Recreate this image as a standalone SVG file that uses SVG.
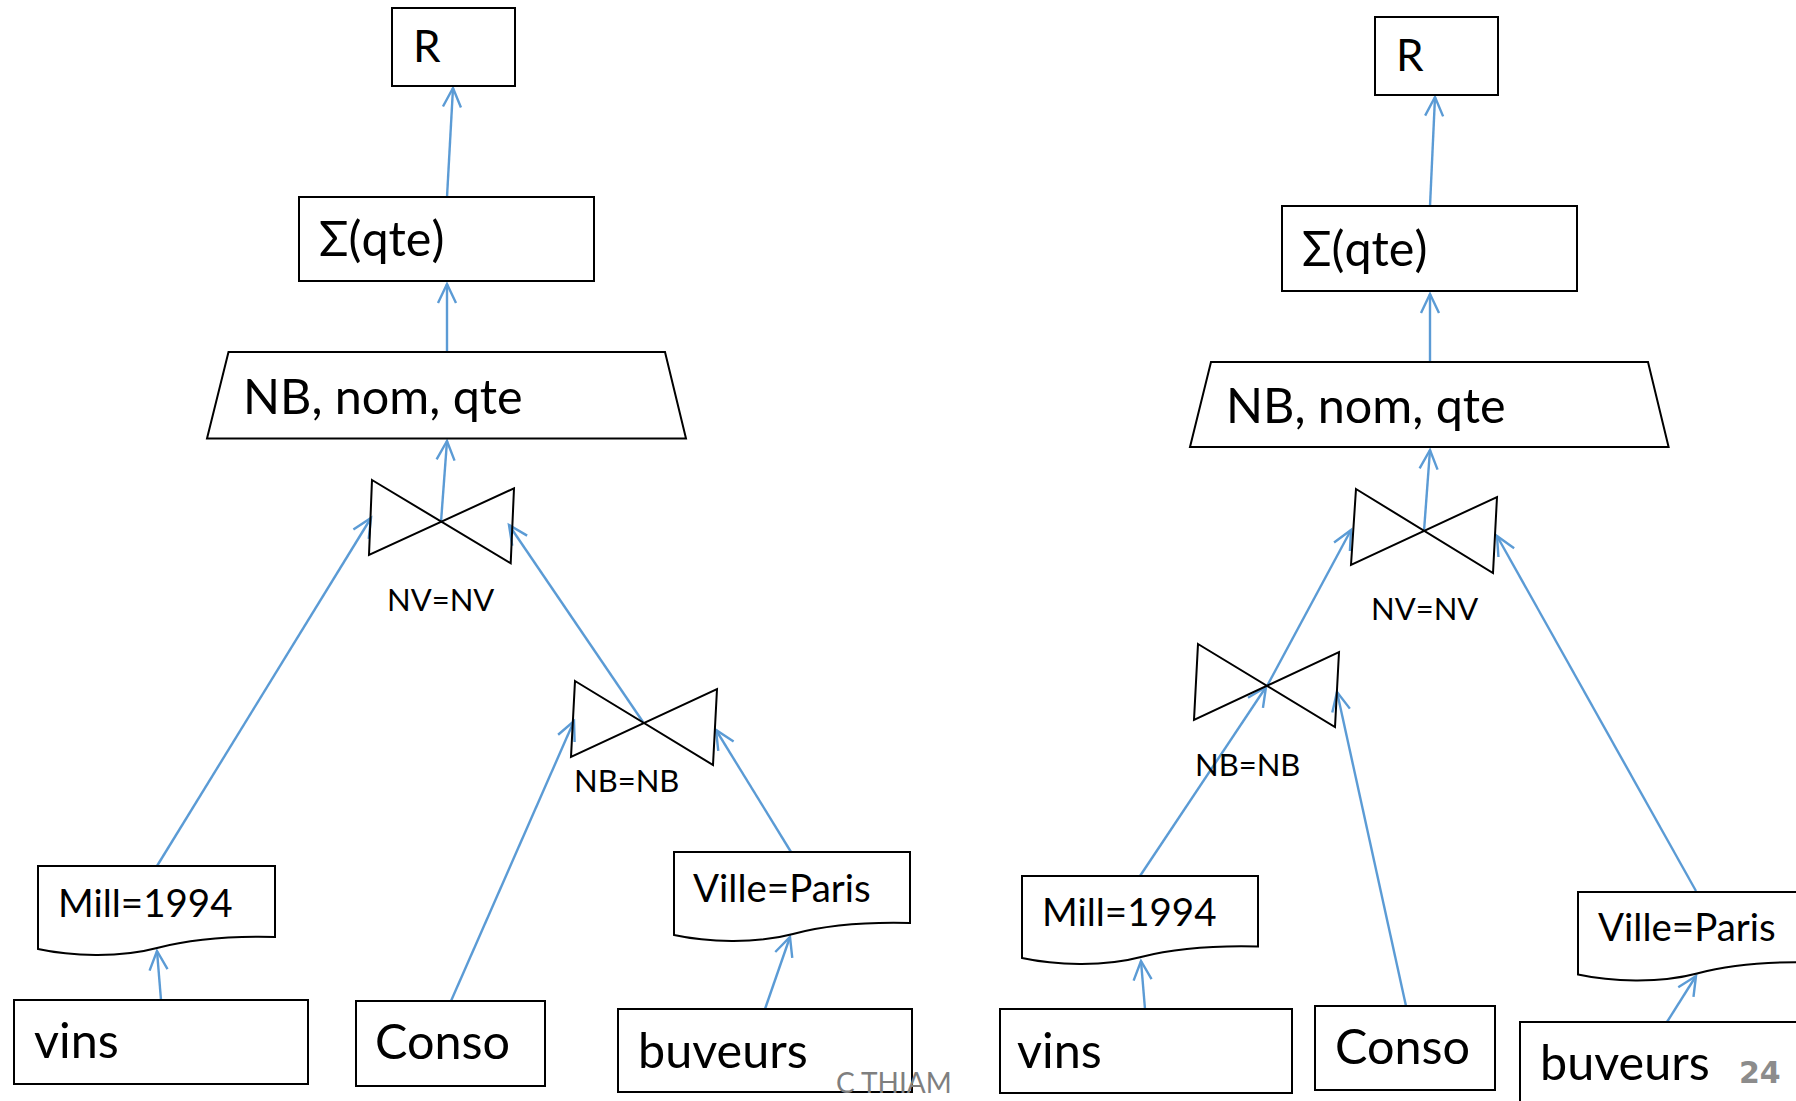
<svg xmlns="http://www.w3.org/2000/svg" width="1796" height="1101" viewBox="0 0 1796 1101">
<style>
.box{fill:#fff;stroke:#000;stroke-width:2}
.bt{fill:none;stroke:#000;stroke-width:2;stroke-linejoin:miter}
.t{font-family:Lato,"Liberation Sans",sans-serif;fill:#000}
.r{font-size:44px}
.big{font-size:48.5px}
.mid{font-size:38.5px}
.tab{font-size:48.5px}
.sm{font-size:31px}
.c{stroke:#5B9BD5;stroke-width:2.4;fill:none;marker-end:url(#ah)}
</style>
<defs>
<marker id="ah" markerUnits="userSpaceOnUse" markerWidth="22" markerHeight="22" viewBox="0 0 22 22" refX="19" refY="10" orient="auto" overflow="visible">
<path d="M0,1 L19,10 L0,19" fill="none" stroke="#5B9BD5" stroke-width="2.4"/>
</marker>
</defs>
<rect width="1796" height="1101" fill="#fff"/>

<g id="connectors">
<line class="c" x1="447" y1="197" x2="453" y2="88"/>
<line class="c" x1="447" y1="352" x2="447" y2="284"/>
<line class="c" x1="441" y1="522" x2="447" y2="441"/>
<line class="c" x1="157" y1="866" x2="371" y2="518"/>
<line class="c" x1="643" y1="722" x2="509" y2="525"/>
<line class="c" x1="451" y1="1001" x2="574" y2="721"/>
<line class="c" x1="791" y1="852" x2="716" y2="730"/>
<line class="c" x1="161" y1="1000" x2="157" y2="951"/>
<line class="c" x1="765" y1="1009" x2="790" y2="937"/>

<line class="c" x1="1430" y1="206" x2="1435" y2="97"/>
<line class="c" x1="1430" y1="362" x2="1430" y2="294"/>
<line class="c" x1="1424" y1="531" x2="1430" y2="450"/>
<line class="c" x1="1140" y1="876" x2="1266" y2="687"/>
<line class="c" x1="1267" y1="686" x2="1351" y2="530"/>
<line class="c" x1="1406" y1="1006" x2="1337" y2="692"/>
<line class="c" x1="1696" y1="891" x2="1497" y2="536"/>
<line class="c" x1="1145" y1="1009" x2="1141" y2="961"/>
<line class="c" x1="1667" y1="1022" x2="1696" y2="976"/>
</g>

<!-- Left tree -->
<g id="L-R"><rect class="box" x="392" y="8" width="123" height="78"/><text class="t r" x="413" y="62">R</text></g>
<g id="L-sum"><rect class="box" x="299" y="197" width="295" height="84"/><text class="t big" x="319" y="256">Σ(qte)</text></g>
<g id="L-proj"><polygon class="box" points="228.5,352 665,352 686,438.5 207,438.5"/><text class="t big" x="243" y="414">NB, nom, qte</text></g>
<g id="L-joinNV"><path class="bt" d="M372,480 L510.7,563.3 L514,488.3 L369,555 Z"/><text class="t sm" x="387" y="611">NV=NV</text></g>
<g id="L-joinNB"><path class="bt" d="M575,681 L713,765 L717,689 L571,757 Z"/><text class="t sm" x="574" y="792">NB=NB</text></g>
<g id="L-mill"><path class="box" d="M38,866 H275 V937 C235,936 195,938 157,948 C120,958 70,956 38,949 Z"/><text class="t mid" x="58" y="917">Mill=1994</text></g>
<g id="L-ville"><path class="box" d="M674,852 H910 V923 C870,922 830,924 793,934 C756,944 706,942 674,935 Z"/><text class="t mid" x="693" y="902">Ville=Paris</text></g>
<g id="L-vins"><rect class="box" x="14" y="1000" width="294" height="84"/><text class="t tab" x="34" y="1058">vins</text></g>
<g id="L-conso"><rect class="box" x="356" y="1001" width="189" height="85"/><text class="t tab" x="375" y="1059">Conso</text></g>
<g id="L-buveurs"><rect class="box" x="618" y="1009" width="294" height="83"/><text class="t tab" x="638" y="1068">buveurs</text></g>

<!-- Right tree -->
<g id="R-R"><rect class="box" x="1375" y="17" width="123" height="78"/><text class="t r" x="1396" y="71">R</text></g>
<g id="R-sum"><rect class="box" x="1282" y="206" width="295" height="85"/><text class="t big" x="1302" y="266">Σ(qte)</text></g>
<g id="R-proj"><polygon class="box" points="1211,362 1648,362 1668.6,447 1190,447"/><text class="t big" x="1226" y="423">NB, nom, qte</text></g>
<g id="R-joinNV"><path class="bt" d="M1356,489 L1493,573 L1497,497 L1351,565 Z"/><text class="t sm" x="1371" y="620">NV=NV</text></g>
<g id="R-joinNB"><path class="bt" d="M1198,644 L1335,727 L1339,652 L1194,720 Z"/><text class="t sm" x="1195" y="776">NB=NB</text></g>
<g id="R-mill"><path class="box" d="M1022,876 H1258 V946.5 C1218,945.5 1178,947.5 1141,957 C1104,967 1054,965 1022,958 Z"/><text class="t mid" x="1042" y="926">Mill=1994</text></g>
<g id="R-ville"><path class="box" d="M1578,892 H1814 V962.5 C1774,961.5 1734,963.5 1697,973.5 C1660,983.5 1610,981.5 1578,974.5 Z"/><text class="t mid" x="1598" y="941">Ville=Paris</text></g>
<g id="R-vins"><rect class="box" x="1000" y="1009" width="292" height="84"/><text class="t tab" x="1017" y="1068">vins</text></g>
<g id="R-conso"><rect class="box" x="1315" y="1006" width="180" height="84"/><text class="t tab" x="1335" y="1064">Conso</text></g>
<g id="R-buveurs"><rect class="box" x="1520" y="1022" width="300" height="90"/><text class="t tab" x="1540" y="1080">buveurs</text></g>

<text x="836" y="1093" font-family="Lato,'Liberation Sans',sans-serif" font-size="28" fill="#7F7F7F">C THIAM</text>
<text x="1739" y="1083" font-family="'DejaVu Sans',sans-serif" font-weight="bold" font-size="30" fill="#8C8C8C">24</text>
</svg>
